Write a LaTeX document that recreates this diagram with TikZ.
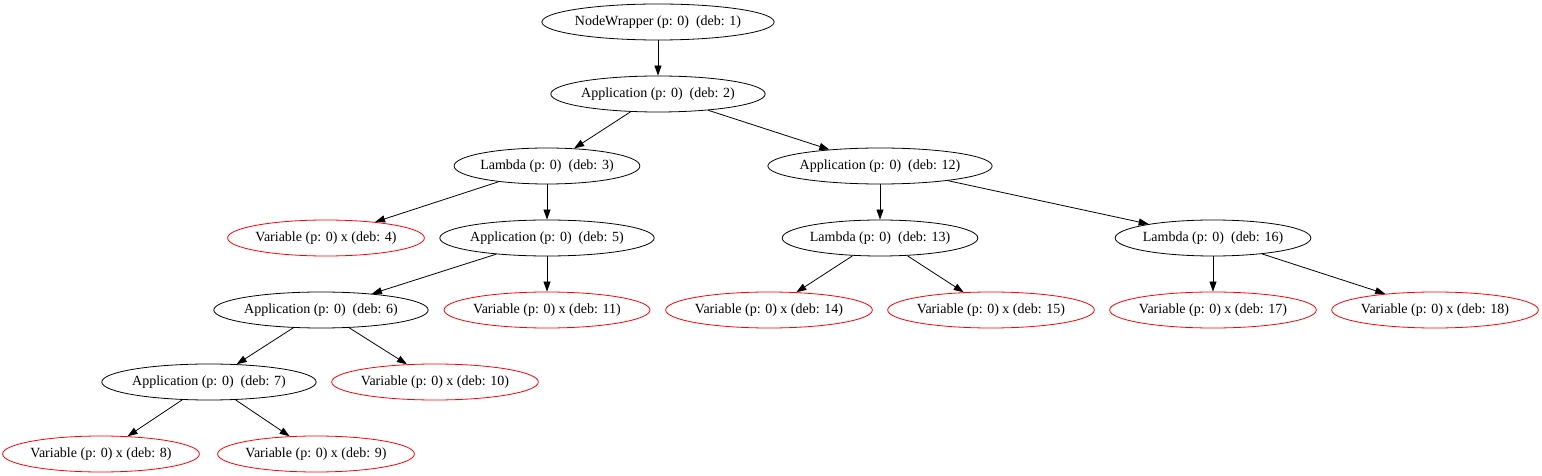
\documentclass[tikz,border=0pt]{standalone}
\usepackage{fontspec}
\setmainfont{Liberation Serif}
\usepackage{tikz}
\usetikzlibrary{arrows.meta,
                shapes}
\tikzstyle{expr} = [ellipse, draw, line width=0.8bp, minimum height=36bp, inner xsep=-1bp, inner ysep=0pt, font=\fontsize{14bp}{16bp}\selectfont]
\tikzstyle{var} = [expr, draw=red]
\tikzstyle{arrow} = [line width=0.8bp, -{Triangle[length=10bp,width=7bp]}]

\begin{document}
\begin{tikzpicture}[x=1bp,y=-1bp]
    \useasboundingbox (0,0) rectangle (1542,476);

    \node[expr] (n1) at (658,22) {NodeWrapper (p: 0)~~(deb: 1)};
    \node[expr] (n2) at (658,94) {Application (p: 0)~~(deb: 2)};

    \node[expr] (n3) at (547,166) {Lambda (p: 0)~~(deb: 3)};
    \node[expr] (n12) at (880,166) {Application (p: 0)~~(deb: 12)};

    \node[var] (n4) at (326,238) {Variable (p: 0) x (deb: 4)};
    \node[expr] (n5) at (547,238) {Application (p: 0)~~(deb: 5)};
    \node[expr] (n13) at (880,238) {Lambda (p: 0)~~(deb: 13)};
    \node[expr] (n16) at (1213,238) {Lambda (p: 0)~~(deb: 16)};

    \node[expr] (n6) at (321,310) {Application (p: 0)~~(deb: 6)};
    \node[var] (n11) at (547,310) {Variable (p: 0) x (deb: 11)};
    \node[var] (n14) at (769,310) {Variable (p: 0) x (deb: 14)};
    \node[var] (n15) at (991,310) {Variable (p: 0) x (deb: 15)};
    \node[var] (n17) at (1213,310) {Variable (p: 0) x (deb: 17)};
    \node[var] (n18) at (1435,310) {Variable (p: 0) x (deb: 18)};

    \node[expr] (n7) at (209,382) {Application (p: 0)~~(deb: 7)};
    \node[var] (n10) at (435,382) {Variable (p: 0) x (deb: 10)};

    \node[var] (n8) at (101,454) {Variable (p: 0) x (deb: 8)};
    \node[var] (n9) at (316,454) {Variable (p: 0) x (deb: 9)};

    \draw [arrow] (n1) -- (n2);
    \draw [arrow] (n2) -- (n3);
    \draw [arrow] (n2) -- (n12);
    \draw [arrow] (n3) -- (n4);
    \draw [arrow] (n3) -- (n5);
    \draw [arrow] (n5) -- (n6);
    \draw [arrow] (n5) -- (n11);
    \draw [arrow] (n6) -- (n7);
    \draw [arrow] (n6) -- (n10);
    \draw [arrow] (n7) -- (n8);
    \draw [arrow] (n7) -- (n9);
    \draw [arrow] (n12) -- (n13);
    \draw [arrow] (n12) -- (n16);
    \draw [arrow] (n13) -- (n14);
    \draw [arrow] (n13) -- (n15);
    \draw [arrow] (n16) -- (n17);
    \draw [arrow] (n16) -- (n18);
    \end{tikzpicture}
\end{document}
